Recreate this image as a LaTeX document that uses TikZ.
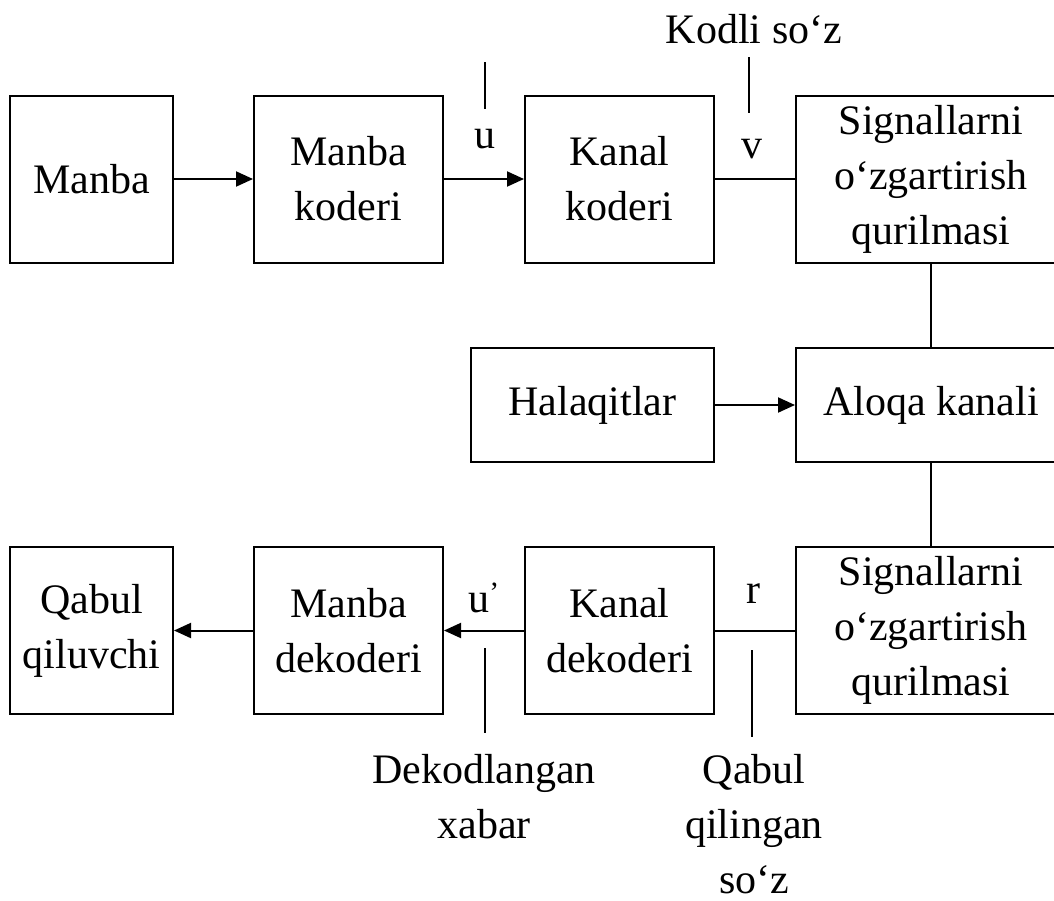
\documentclass[tikz,border=0pt]{standalone}
\usepackage{fontspec}
\setmainfont{Liberation Serif}
\usetikzlibrary{arrows.meta}
\begin{document}
\begin{tikzpicture}[x=1pt,y=-1pt,line width=2pt,
	font=\fontsize{42}{55}\selectfont,
	blok/.style={draw,align=center,inner sep=0pt,minimum height=167pt},
	lbl/.style={anchor=base,align=center,inner sep=0pt},
	>={Triangle[length=17pt,width=15pt]}]
	\useasboundingbox (0,0) rectangle (1054,900);
	% top row
	\node[blok,minimum width=163pt] (manba) at (91.5,179) {Manba};
	\node[blok,minimum width=189pt] (mkod) at (348.5,179) {Manba\\koderi};
	\node[blok,minimum width=189pt] (kkod) at (619.5,179) {Kanal\\koderi};
	\node[blok,minimum width=270pt] (sig1) at (931,179) {Signallarni\\o‘zgartirish\\qurilmasi};
	% middle row
	\node[blok,minimum width=243pt,minimum height=114pt] (halaq) at (592.5,405) {Halaqitlar};
	\node[blok,minimum width=270pt,minimum height=114pt] (aloqa) at (931,405) {Aloqa kanali};
	% bottom row
	\node[blok,minimum width=163pt] (qabul) at (91.5,630.5) {Qabul\\qiluvchi};
	\node[blok,minimum width=189pt] (mdek) at (348.5,630.5) {Manba\\dekoderi};
	\node[blok,minimum width=189pt] (kdek) at (619.5,630.5) {Kanal\\dekoderi};
	\node[blok,minimum width=270pt] (sig2) at (931,630.5) {Signallarni\\o‘zgartirish\\qurilmasi};
	% connectors
	\draw[->] (manba) -- (mkod);
	\draw[->] (mkod) -- (kkod);
	\draw (kkod) -- (sig1);
	\draw (sig1) -- (aloqa);
	\draw[->] (halaq) -- (aloqa);
	\draw (aloqa) -- (sig2);
	\draw (sig2) -- (kdek);
	\draw[->] (kdek) -- (mdek);
	\draw[->] (mdek) -- (qabul);
	% labels (base = last line)
	\node[lbl] (u) at (485,148) {u};
	\node[lbl] (v) at (752,158) {v};
	\node[lbl] (kodli) at (754,43) {Kodli so‘z};
	\node[lbl] (ud) at (484,612) {u\textsuperscript{’}};
	\node[lbl] (r) at (753,603) {r};
	\node[lbl] (dekod) at (484,838) {Dekodlangan\\xabar};
	\node[lbl] (qsoz) at (754,893) {Qabul\\qilingan\\so‘z};
	\path (485,62) coordinate (u1) (485,109) coordinate (u2)
	(749,57) coordinate (v1) (749,113) coordinate (v2)
	(485,648) coordinate (d1) (485,733) coordinate (d2)
	(752,650) coordinate (q1) (752,737) coordinate (q2);
	\draw (u1)--(u2) (v1)--(v2) (d1)--(d2) (q1)--(q2);
\end{tikzpicture}
\end{document}
